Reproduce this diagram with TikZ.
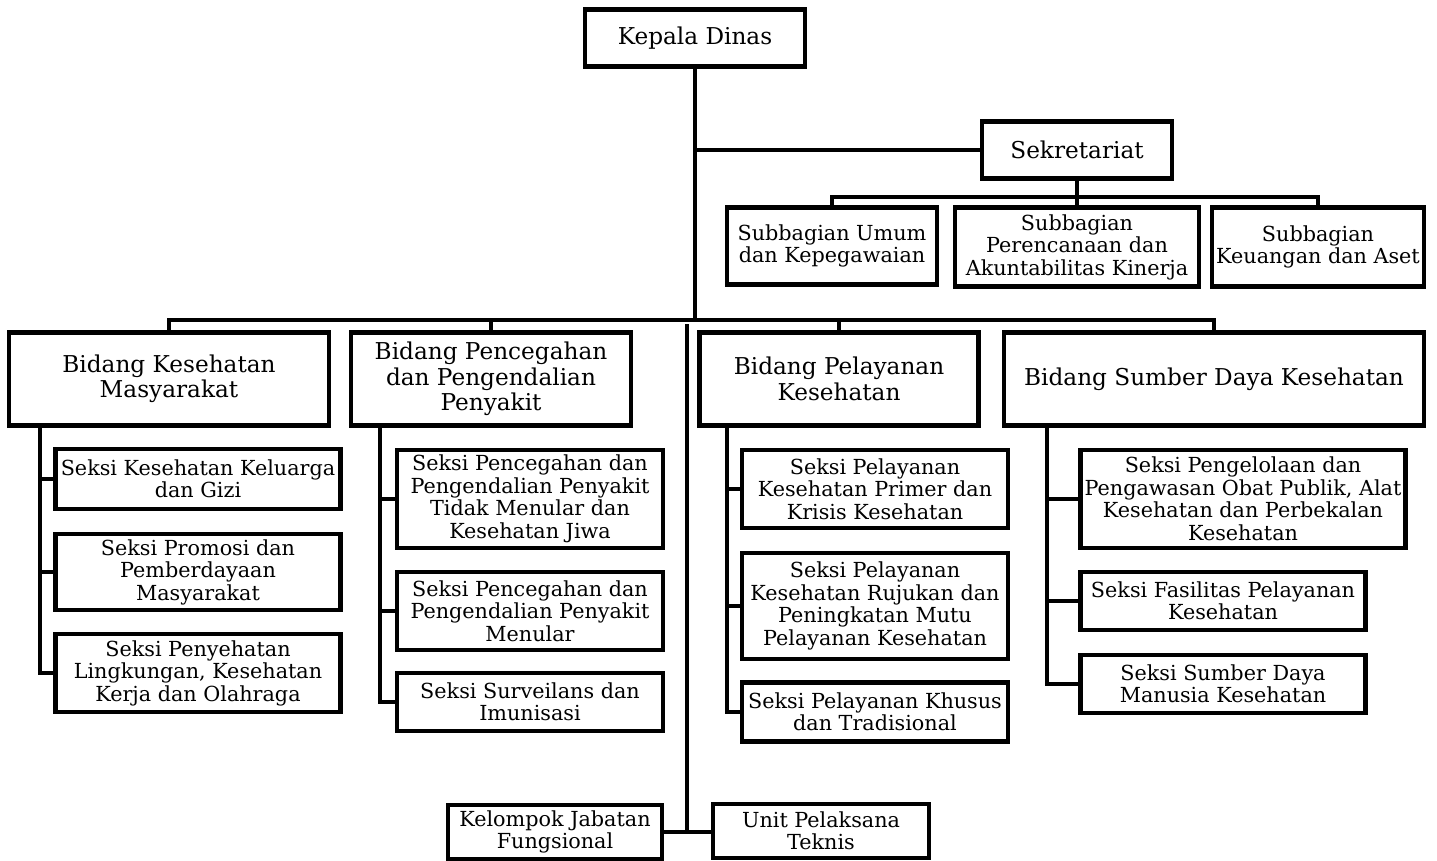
\documentclass[tikz,border=0pt]{standalone}
\usepackage{fontspec}
\setmainfont{DejaVu Serif}
\usepackage{tikz}
\usetikzlibrary{calc}
\tikzset{
    unit/.style={draw=black, line width=2.6pt, fill=white, inner sep=0pt, align=center,
        font=\fontsize{11.8}{12.8}\selectfont},
    head/.style={unit, font=\fontsize{13.2}{14.4}\selectfont},
    link/.style={line width=2.2pt, line cap=rect},
    wh/.style 2 args={minimum width=#1*0.02cm, minimum height=#2*0.02cm}
}

\begin{document}
\begin{tikzpicture}[x=0.02cm, y=-0.02cm]
    \useasboundingbox (0,0) rectangle (1437,861);
    % pimpinan dan sekretariat
    \node[head, wh={220}{57}] (kadis) at (695,38) {Kepala Dinas};
    \node[head, wh={190}{57}] (sekr) at (1077,150) {Sekretariat};
    \node[unit, wh={210}{77}] (umum) at (832,246) {Subbagian Umum\\dan Kepegawaian};
    \node[unit, wh={244}{79}] (renc) at (1077,247) {Subbagian\\Perencanaan dan\\Akuntabilitas Kinerja};
    \node[unit, wh={212}{79}] (keu) at (1318,247) {Subbagian\\Keuangan dan Aset};
    \coordinate (hub) at (695,320);
    \coordinate (sbar) at (1077,197);
    \draw[link] (kadis.south) -- (hub);
    \draw[link] (sekr.west) -- (sekr.west -| hub);
    \draw[link] (sekr.south) -- (sbar);
    \draw[link] (umum.north) |- (sbar) -| (keu.north);
    \draw[link] (renc.north) -- (sbar);

    % bidang
    \node[head, wh={320}{93}] (kesmas) at (169,379) {Bidang Kesehatan\\Masyarakat};
    \node[head, wh={280}{93}] (ptp) at (491,379) {Bidang Pencegahan\\dan Pengendalian\\Penyakit};
    \node[head, wh={279}{93}] (yankes) at (839,379) {Bidang Pelayanan\\Kesehatan};
    \node[head, wh={420}{93}] (sdk) at (1214,379) {Bidang Sumber Daya Kesehatan};
    \draw[link] (kesmas.north) |- (hub) -| (sdk.north);
    \draw[link] (ptp.north) -- (ptp.north |- hub);
    \draw[link] (yankes.north) -- (yankes.north |- hub);

    % seksi kesmas
    \node[unit, wh={285}{60}] (gizi) at (198,479) {Seksi Kesehatan Keluarga\\dan Gizi};
    \node[unit, wh={285}{76}] (promkes) at (198,572) {Seksi Promosi dan\\Pemberdayaan\\Masyarakat};
    \node[unit, wh={285}{78}] (kesling) at (198,673) {Seksi Penyehatan\\Lingkungan, Kesehatan\\Kerja dan Olahraga};
    \coordinate (kesmasA) at (40,427);
    \foreach \s in {gizi,promkes,kesling}
        \draw[link] (kesmasA) |- (\s.west);

    % seksi p2p
    \node[unit, wh={266}{98}] (ptm) at (530,499) {Seksi Pencegahan dan\\Pengendalian Penyakit\\Tidak Menular dan\\Kesehatan Jiwa};
    \node[unit, wh={266}{78}] (pm) at (530,611) {Seksi Pencegahan dan\\Pengendalian Penyakit\\Menular};
    \node[unit, wh={266}{58}] (surv) at (530,702) {Seksi Surveilans dan\\Imunisasi};
    \coordinate (ptpA) at (380,427);
    \foreach \s in {ptm,pm,surv}
        \draw[link] (ptpA) |- (\s.west);

    % seksi pelayanan
    \node[unit, wh={266}{78}] (primer) at (875,489) {Seksi Pelayanan\\Kesehatan Primer dan\\Krisis Kesehatan};
    \node[unit, wh={266}{106}] (rujukan) at (875,606) {Seksi Pelayanan\\Kesehatan Rujukan dan\\Peningkatan Mutu\\Pelayanan Kesehatan};
    \node[unit, wh={266}{59}] (khusus) at (875,712) {Seksi Pelayanan Khusus\\dan Tradisional};
    \coordinate (yankesA) at (727,427);
    \foreach \s in {primer,rujukan,khusus}
        \draw[link] (yankesA) |- (\s.west);

    % seksi sdk
    \node[unit, wh={325}{98}] (farmasi) at (1243,499) {Seksi Pengelolaan dan\\Pengawasan Obat Publik, Alat\\Kesehatan dan Perbekalan\\Kesehatan};
    \node[unit, wh={285}{58}] (faskes) at (1223,601) {Seksi Fasilitas Pelayanan\\Kesehatan};
    \node[unit, wh={285}{58}] (sdmk) at (1223,684) {Seksi Sumber Daya\\Manusia Kesehatan};
    \coordinate (sdkA) at (1047,427);
    \foreach \s in {farmasi,faskes,sdmk}
        \draw[link] (sdkA) |- (\s.west);

    % fungsional dan upt
    \node[unit, wh={214}{54}] (jabfung) at (555,832) {Kelompok Jabatan\\Fungsional};
    \node[unit, wh={216}{54}] (upt) at (821,831) {Unit Pelaksana\\Teknis};
    \coordinate (lower) at (687,326);
    \draw[link] (lower) -- (lower |- jabfung.east);
    \draw[link] (jabfung.east) -- (jabfung.east -| upt.west);
\end{tikzpicture}
\end{document}
